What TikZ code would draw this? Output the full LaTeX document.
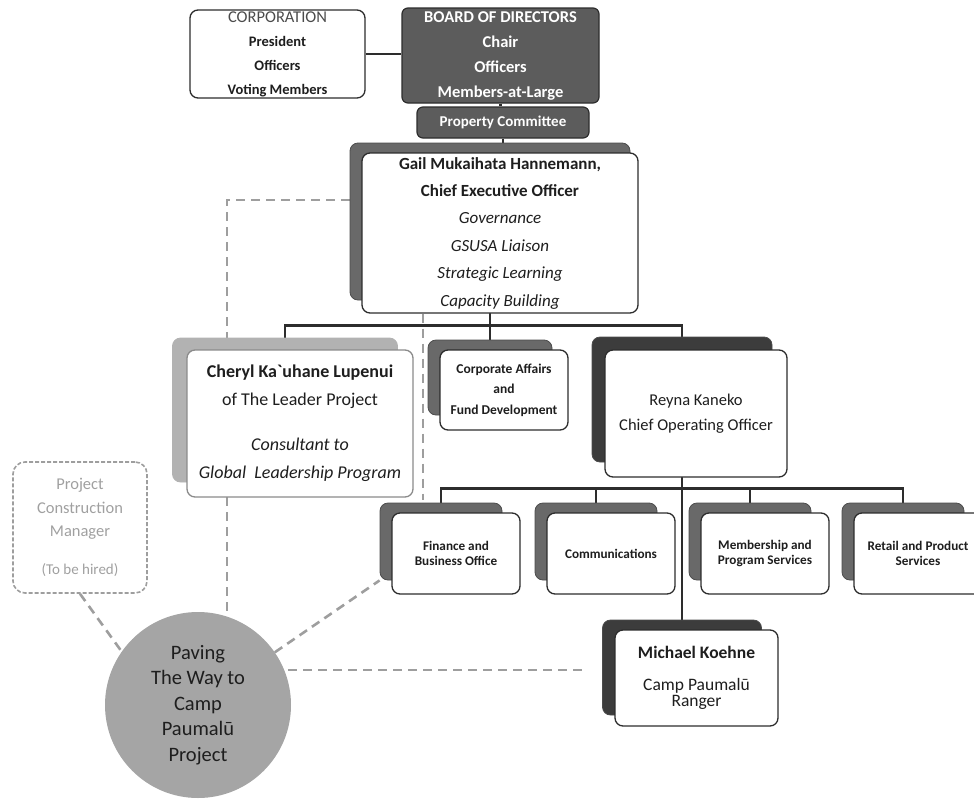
\documentclass[tikz,border=0pt]{standalone}
\usepackage{fontspec}
\setmainfont{Carlito}
\newfontfamily\rawfont{Carlito}[Ligatures=TeXOff]
\usetikzlibrary{calc, backgrounds}
\definecolor{InkBlack}{RGB}{30, 30, 30}
\definecolor{LineBlack}{RGB}{45, 45, 45}
\definecolor{BoardGrey}{RGB}{92, 92, 92}
\definecolor{TabGrey}{RGB}{105, 105, 105}
\definecolor{TabDark}{RGB}{60, 60, 60}
\definecolor{TabLight}{RGB}{178, 178, 178}
\definecolor{CircleGrey}{RGB}{165, 165, 165}
\definecolor{DashGrey}{RGB}{158, 158, 158}
\definecolor{FaintText}{RGB}{160, 160, 160}

\tikzset{
  frontbox/.style={draw=LineBlack, line width=1.3pt, fill=white, rounded corners=8pt, align=center, inner sep=0pt, text=InkBlack},
  backbox/.style={draw=LineBlack!85, line width=0.8pt, rounded corners=8pt, inner sep=0pt},
  boardbox/.style={draw=LineBlack, line width=1.2pt, fill=BoardGrey, rounded corners=6pt, align=center, inner sep=0pt, text=white},
  link/.style={LineBlack, line width=2.6pt},
  dashlink/.style={DashGrey, line width=2.6pt, dash pattern=on 9pt off 6pt},
}

\begin{document}
\begin{tikzpicture}[x=1pt, y=-1pt]
    \useasboundingbox (0,0) rectangle (974,798);

    % Corporation and board
    \node[frontbox, minimum width=175pt, minimum height=88pt, font=\fontsize{14.5}{24}\selectfont] (corp) at (277.5,54)
        {{\color{InkBlack!80}\fontsize{16.5}{24}\selectfont CORPORATION}\\\textbf{President}\\\textbf{Officers}\\\textbf{Voting Members}};
    \node[boardbox, minimum width=197pt, minimum height=95pt, font=\bfseries\fontsize{16.5}{25}\selectfont] (board) at (500.5,55.5)
        {BOARD OF DIRECTORS\\Chair\\Officers\\Members-at-Large};
    \node[boardbox, minimum width=172pt, minimum height=31pt, font=\bfseries\fontsize{15}{17}\selectfont] (prop) at (503,122.5)
        {Property Committee};

    % Chief executive
    \node[backbox, fill=TabGrey, minimum width=280pt, minimum height=157pt] (ceoback) at (490,221.5) {};
    \node[frontbox, minimum width=276pt, minimum height=160pt, font=\fontsize{17}{27.4}\selectfont] (ceo) at (500,233)
        {\textbf{Gail Mukaihata Hannemann,}\\\textbf{Chief Executive Officer}\\\textit{Governance}\\
         \textit{GSUSA Liaison}\\\textit{Strategic Learning}\\\textit{Capacity Building}};

    % Consultant
    \node[backbox, fill=TabLight, draw=TabLight, minimum width=225pt, minimum height=144pt] (cherylback) at (285,410) {};
    \node[frontbox, draw=LineBlack!55, minimum width=226pt, minimum height=147pt, font=\fontsize{18}{28}\selectfont] (cheryl) at (300,423.5)
        {\textbf{Cheryl Ka{\rawfont`}uhane Lupenui}\\of The Leader Project\\[17pt]\textit{Consultant to}\\\textit{Global\ \ Leadership Program}};

    % Corporate affairs
    \node[backbox, fill=TabGrey, minimum width=124pt, minimum height=75pt] (corpaffback) at (490,377.5) {};
    \node[frontbox, minimum width=128pt, minimum height=80pt, font=\bfseries\fontsize{13.5}{20.5}\selectfont] (corpaff) at (504,390)
        {Corporate Affairs\\and\\Fund Development};

    % Chief operating
    \node[backbox, fill=TabDark, minimum width=180pt, minimum height=125pt] (reynaback) at (682,399.5) {};
    \node[frontbox, minimum width=182pt, minimum height=127pt, font=\fontsize{16.5}{25}\selectfont] (reyna) at (696,413.5)
        {Reyna Kaneko\\Chief Operating Officer};

    % Departments
    \node[backbox, fill=TabGrey, minimum width=122pt, minimum height=77pt] (finback) at (441,541.5) {};
    \node[frontbox, minimum width=128pt, minimum height=81pt, font=\bfseries\fontsize{13.2}{15.5}\selectfont] (fin) at (456,553.5)
        {Finance and\\Business Office};
    \node[backbox, fill=TabGrey, minimum width=122pt, minimum height=77pt] (commback) at (596,541.5) {};
    \node[frontbox, minimum width=128pt, minimum height=81pt, font=\bfseries\fontsize{13.2}{15.5}\selectfont] (comm) at (611,553.5)
        {Communications};
    \node[backbox, fill=TabGrey, minimum width=122pt, minimum height=77pt] (memberback) at (750,541.5) {};
    \node[frontbox, minimum width=128pt, minimum height=81pt, font=\bfseries\fontsize{13.2}{15.5}\selectfont] (member) at (765,553.5)
        {Membership and\\Program Services};
    \node[backbox, fill=TabGrey, minimum width=122pt, minimum height=77pt] (retailback) at (903,541.5) {};
    \node[frontbox, minimum width=128pt, minimum height=81pt, font=\bfseries\fontsize{13.2}{15.5}\selectfont] (retail) at (918,553.5)
        {Retail and Product\\Services};

    % Ranger
    \node[backbox, fill=TabDark, minimum width=159pt, minimum height=95pt] (michaelback) at (682,667.5) {};
    \node[frontbox, minimum width=163pt, minimum height=96pt, font=\fontsize{17.5}{16.5}\selectfont] (michael) at (696.5,678)
        {\textbf{Michael Koehne}\\[15pt]Camp Paumalū\\Ranger};

    % Project
    \node[circle, fill=CircleGrey, minimum size=186pt, inner sep=0pt, align=center, text=InkBlack, font=\fontsize{20.5}{25.5}\selectfont] (paving) at (198,705)
        {Paving\\The Way to\\Camp\\Paumalū\\Project};
    \node[draw=DashGrey, line width=1.6pt, dash pattern=on 4pt off 2pt, rounded corners=12pt, minimum width=134pt, minimum height=131pt,
          inner sep=0pt, align=center, text=FaintText, font=\fontsize{16.5}{23.5}\selectfont] (pcm) at (80,527.5)
        {Project\\Construction\\Manager\\[14.5pt]{\fontsize{15}{17}\selectfont(To be hired)}};

    % Connectors
    \begin{scope}[on background layer]
        \draw[link] (corp.east) -- (corp.east -| board.west);
        \draw[link] (board.south) -- (board.south |- prop.north);
        \draw[link] (prop.south) -- (prop.south |- ceoback.north);
        \coordinate (ceobar) at ($(ceoback.south)+(0,25)$);
        \draw[link] (ceoback.south) -- (corpaffback.north);
        \draw[link] (cherylback.north) |- (ceobar) -| (reynaback.north);
        \coordinate (coobar) at ($(reynaback.south)+(0,26)$);
        \draw[link] (reynaback.south) -- (michaelback.north);
        \draw[link] (finback.north) |- (coobar) -| (retailback.north);
        \draw[link] (commback.north) -- (commback.north |- coobar);
        \draw[link] (memberback.north) -- (memberback.north |- coobar);
        % dashed links
        \coordinate (ceoturn) at (227,200);
        \draw[dashlink] (ceoback.west |- ceoturn) -- (ceoturn) -- (ceoturn |- paving.center);
        \coordinate (ceodrop) at (423,500);
        \draw[dashlink] (ceodrop |- ceo.south) -- (ceodrop);
        \coordinate (rangerend) at (583,670);
        \draw[dashlink] (rangerend -| paving.center) -- (rangerend);
        \draw[dashlink] (paving) -- (finback.south west);
        \draw[dashlink] (pcm.south) -- (paving.145);
    \end{scope}
\end{tikzpicture}
\end{document}
